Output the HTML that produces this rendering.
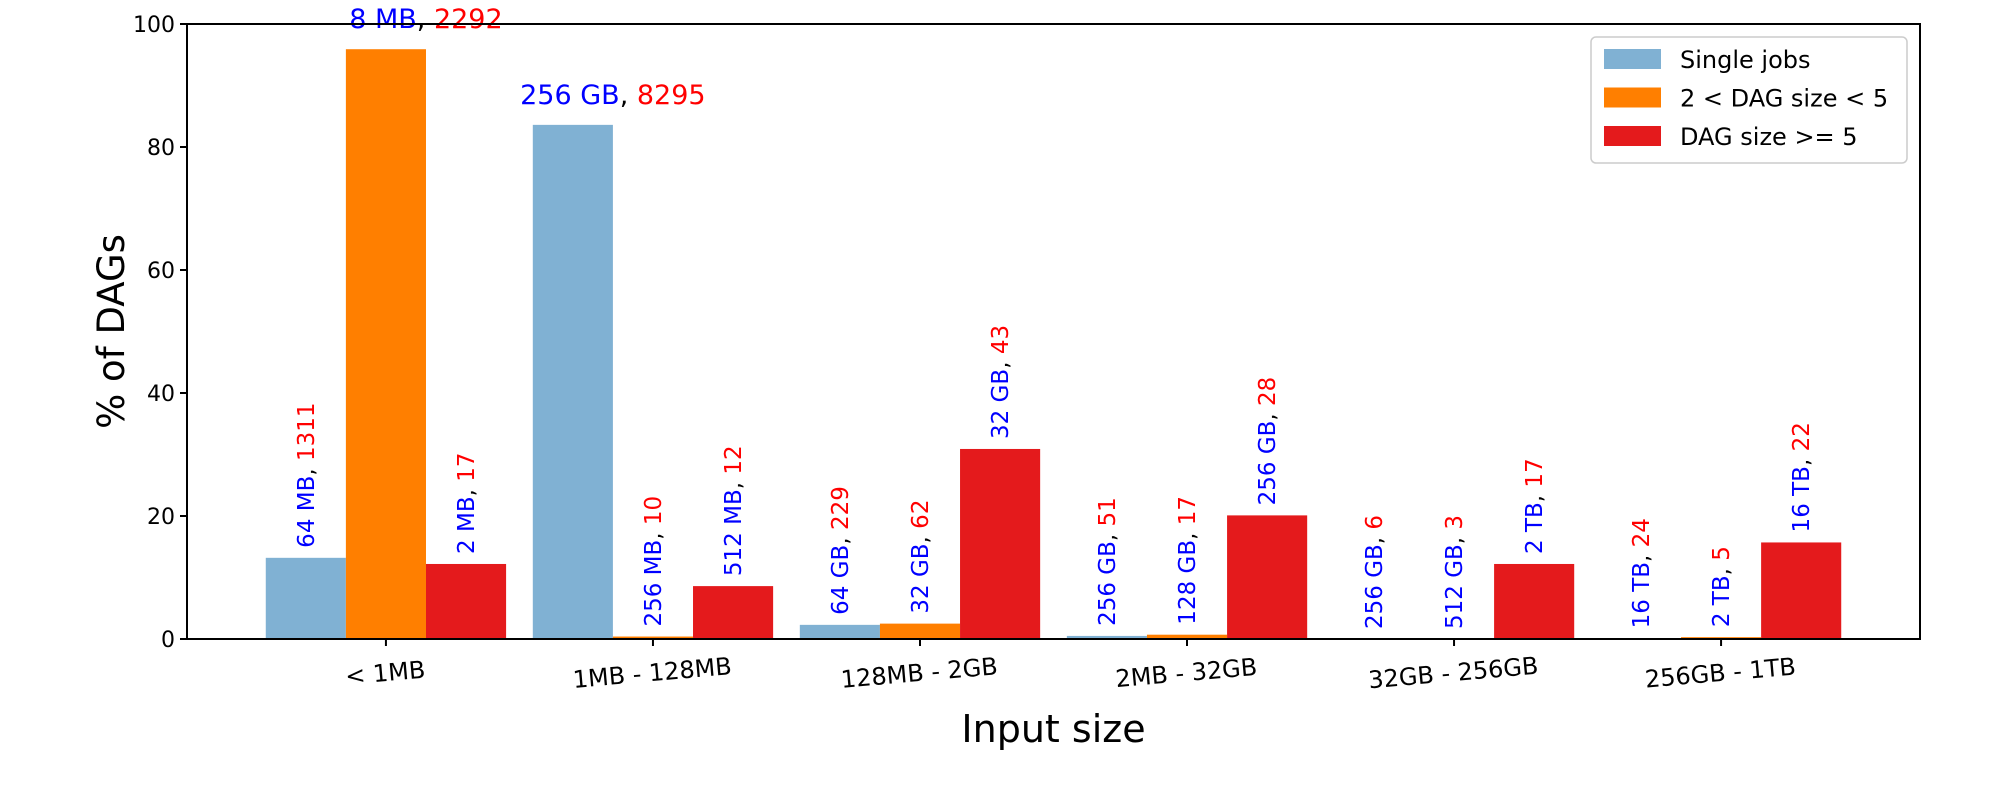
<!DOCTYPE html>
<html><head><meta charset="utf-8"><style>
body{margin:0;background:#fff}
svg{display:block;font-family:"DejaVu Sans","Liberation Sans",sans-serif}
</style></head><body>
<svg id="c" width="2000" height="800" viewBox="0 0 2000 800"></svg>
<script>
const categories=["< 1MB","1MB - 128MB","128MB - 2GB","2MB - 32GB","32GB - 256GB","256GB - 1TB"];
const seriesNames=["Single jobs","2 < DAG size < 5","DAG size >= 5"];
const singleJobs=[13.2,83.6,2.3,0.5,0,0.1];
const dagSmall=[95.9,0.4,2.5,0.7,0,0.3];
const dagLarge=[12.2,8.6,30.9,20.1,12.2,15.7];
const labelSizes=[["64 MB","8 MB","2 MB"],["256 GB","256 MB","512 MB"],["64 GB","32 GB","32 GB"],["256 GB","128 GB","256 GB"],["256 GB","512 GB","2 TB"],["16 TB","2 TB","16 TB"]];
const labelCounts=[["1311","2292","17"],["8295","10","12"],["229","62","43"],["51","17","28"],["6","3","17"],["24","5","22"]];
const yTicks=[0,20,40,60,80,100];

const svg=document.getElementById('c');
const NS='http://www.w3.org/2000/svg';
const L=187,R=1920,T=24,B=639;
const xmin=-0.745,xmax=5.745;
const xs=v=>L+(v-xmin)/(xmax-xmin)*(R-L);
const ys=v=>B-v/100*(B-T);
const colors=["#80b1d3","#ff7f00","#e41a1c"];
const series=[singleJobs,dagSmall,dagLarge];
const bw=0.3;
function mk(tag,attrs,parent){const e=document.createElementNS(NS,tag);for(const k in attrs)e.setAttribute(k,attrs[k]);(parent||svg).appendChild(e);return e;}

series.forEach((vals,s)=>{
  vals.forEach((v,i)=>{
    const cx=i+(s-1)*bw;
    const r=mk('rect',{x:xs(cx-bw/2),y:ys(v),width:xs(cx+bw/2)-xs(cx-bw/2),height:ys(0)-ys(v),fill:colors[s]});
    
    
    const px=xs(cx),py=ys(v);
    let t;
    if(v>80){
      t=mk('text',{x:px+40,y:py-21,'text-anchor':'middle','font-size':27});
    }else{
      t=mk('text',{transform:`translate(${px+8},${py-10}) rotate(-90)`,'font-size':23});
    }
    
    
    const a=mk('tspan',{fill:'#0000ff'},t);a.textContent=labelSizes[i][s];
    const b=mk('tspan',{fill:'#000'},t);b.textContent=', ';
    const c=mk('tspan',{fill:'#ff0000'},t);c.textContent=labelCounts[i][s];
  });
});

const frame=mk('rect',{x:L,y:T,width:R-L,height:B-T,fill:'none',stroke:'#000','stroke-width':2});



yTicks.forEach(v=>{
  mk('line',{x1:L-7,x2:L,y1:ys(v),y2:ys(v),stroke:'#000','stroke-width':2});
  const t=mk('text',{x:L-12,y:ys(v)+8,'text-anchor':'end','font-size':22});
  t.textContent=v;
  
  
});
categories.forEach((c,i)=>{
  mk('line',{x1:xs(i),x2:xs(i),y1:B,y2:B+7,stroke:'#000','stroke-width':2});
  const t=mk('text',{transform:`translate(${xs(i)},${B+42}) rotate(-5)`,'text-anchor':'middle','font-size':24});
  t.textContent=c;
  
  
});
const xt=mk('text',{x:(L+R)/2,y:742,'text-anchor':'middle','font-size':38});
xt.textContent='Input size';


const yt=mk('text',{transform:`translate(124,${(T+B)/2}) rotate(-90)`,'text-anchor':'middle','font-size':37});
yt.textContent='% of DAGs';



const lg=mk('g',{});


mk('rect',{x:1591,y:37,width:316,height:126,rx:5,fill:'#fff','fill-opacity':0.8,stroke:'#ccc','stroke-width':1.5},lg);
seriesNames.forEach((n,s)=>{
  const yc=59+s*38.5;
  mk('rect',{x:1604,y:yc-10,width:57,height:20,fill:colors[s]},lg);
  const t=mk('text',{x:1680,y:yc+9,'font-size':24},lg);
  t.textContent=n;
  
  
});
</script>
</body></html>
